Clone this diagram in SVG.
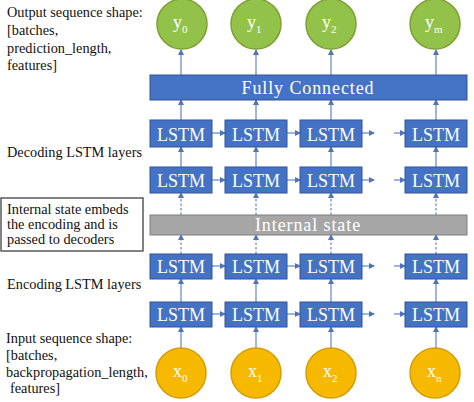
<svg xmlns="http://www.w3.org/2000/svg" width="474" height="402" viewBox="0 0 474 402">
<style>
text{font-family:'Liberation Serif','Times New Roman','DejaVu Serif',serif}
.lstm rect{fill:#4472c4;stroke:#2f5597;stroke-width:1}
.lstm text{fill:#fff;font-size:18px;text-anchor:middle}
.bar text{fill:#fff;font-size:18px;text-anchor:middle;letter-spacing:0.9px}
.out circle{fill:#93c24b;stroke:#7d9f33;stroke-width:1.5}
.in circle{fill:#f7b900;stroke:#d49d05;stroke-width:1.5}
.node text.v{fill:#fff;font-size:18px}
.lbl{fill:#111;font-size:14.3px}
.c line{stroke:#6d8ecb;stroke-width:1.3;fill:none}
.c line.d{stroke-dasharray:2.5 2}
</style>
<defs>
<marker id="ah" markerWidth="6" markerHeight="6" refX="5" refY="3" orient="auto" markerUnits="userSpaceOnUse">
<path d="M0,0 L6,3 L0,6 z" fill="#4f74b8"/>
</marker>
</defs>

<g id="label-output">
<text class="lbl" x="7" y="17">Output sequence shape:</text>
<text class="lbl" x="7" y="35">[batches,</text>
<text class="lbl" x="7" y="53">prediction_length,</text>
<text class="lbl" x="7" y="70">features]</text>
</g>
<g id="label-decoding"><text class="lbl" x="7" y="157">Decoding LSTM layers</text></g>
<g id="label-internal">
<rect x="1" y="198" width="142" height="53" fill="#fff" stroke="#595959" stroke-width="1.5"/>
<text class="lbl" x="7" y="214">Internal state embeds</text>
<text class="lbl" x="7" y="229">the encoding and is</text>
<text class="lbl" x="7" y="244">passed to decoders</text>
</g>
<g id="label-encoding"><text class="lbl" x="7" y="289">Encoding LSTM layers</text></g>
<g id="label-input">
<text class="lbl" x="6" y="343">Input sequence shape:</text>
<text class="lbl" x="6" y="360">[batches,</text>
<text class="lbl" x="6" y="377">backpropagation_length,</text>
<text class="lbl" x="10" y="393">features]</text>
</g>

<g id="connectors" class="c">
<line x1="181" y1="75" x2="181" y2="50" marker-end="url(#ah)"/>
<line x1="256" y1="75" x2="256" y2="50" marker-end="url(#ah)"/>
<line x1="331" y1="75" x2="331" y2="50" marker-end="url(#ah)"/>
<line x1="436" y1="75" x2="436" y2="50" marker-end="url(#ah)"/>
<line x1="181" y1="120" x2="181" y2="100" marker-end="url(#ah)"/>
<line x1="256" y1="120" x2="256" y2="100" marker-end="url(#ah)"/>
<line x1="331" y1="120" x2="331" y2="100" marker-end="url(#ah)"/>
<line x1="436" y1="120" x2="436" y2="100" marker-end="url(#ah)"/>
<line x1="181" y1="167" x2="181" y2="147" marker-end="url(#ah)"/>
<line x1="256" y1="167" x2="256" y2="147" marker-end="url(#ah)"/>
<line x1="331" y1="167" x2="331" y2="147" marker-end="url(#ah)"/>
<line x1="436" y1="167" x2="436" y2="147" marker-end="url(#ah)"/>
<line class="d" x1="181" y1="215" x2="181" y2="193" marker-end="url(#ah)"/>
<line class="d" x1="256" y1="215" x2="256" y2="193" marker-end="url(#ah)"/>
<line class="d" x1="331" y1="215" x2="331" y2="193" marker-end="url(#ah)"/>
<line class="d" x1="436" y1="215" x2="436" y2="193" marker-end="url(#ah)"/>
<line class="d" x1="181" y1="254" x2="181" y2="235" marker-end="url(#ah)"/>
<line class="d" x1="256" y1="254" x2="256" y2="235" marker-end="url(#ah)"/>
<line class="d" x1="331" y1="254" x2="331" y2="235" marker-end="url(#ah)"/>
<line class="d" x1="436" y1="254" x2="436" y2="235" marker-end="url(#ah)"/>
<line x1="181" y1="302" x2="181" y2="279" marker-end="url(#ah)"/>
<line x1="256" y1="302" x2="256" y2="279" marker-end="url(#ah)"/>
<line x1="331" y1="302" x2="331" y2="279" marker-end="url(#ah)"/>
<line x1="436" y1="302" x2="436" y2="279" marker-end="url(#ah)"/>
<line x1="181" y1="348" x2="181" y2="327" marker-end="url(#ah)"/>
<line x1="256" y1="348" x2="256" y2="327" marker-end="url(#ah)"/>
<line x1="331" y1="348" x2="331" y2="327" marker-end="url(#ah)"/>
<line x1="436" y1="348" x2="436" y2="327" marker-end="url(#ah)"/>
<line x1="212" y1="133" x2="225" y2="133" marker-end="url(#ah)"/>
<line x1="287" y1="133" x2="300" y2="133" marker-end="url(#ah)"/>
<line x1="362" y1="133" x2="374" y2="133" marker-end="url(#ah)"/>
<line x1="394" y1="133" x2="405" y2="133" marker-end="url(#ah)"/>
<line x1="212" y1="180" x2="225" y2="180" marker-end="url(#ah)"/>
<line x1="287" y1="180" x2="300" y2="180" marker-end="url(#ah)"/>
<line x1="362" y1="180" x2="374" y2="180" marker-end="url(#ah)"/>
<line x1="394" y1="180" x2="405" y2="180" marker-end="url(#ah)"/>
<line x1="212" y1="266" x2="225" y2="266" marker-end="url(#ah)"/>
<line x1="287" y1="266" x2="300" y2="266" marker-end="url(#ah)"/>
<line x1="362" y1="266" x2="374" y2="266" marker-end="url(#ah)"/>
<line x1="394" y1="266" x2="405" y2="266" marker-end="url(#ah)"/>
<line x1="212" y1="314" x2="225" y2="314" marker-end="url(#ah)"/>
<line x1="287" y1="314" x2="300" y2="314" marker-end="url(#ah)"/>
<line x1="362" y1="314" x2="374" y2="314" marker-end="url(#ah)"/>
<line x1="394" y1="314" x2="405" y2="314" marker-end="url(#ah)"/>
</g>

<g id="y0" class="node out"><circle cx="182" cy="24" r="25"/><text class="v" x="173" y="28">y<tspan font-size="11" dy="5">0</tspan></text></g>
<g id="y1" class="node out"><circle cx="256" cy="24" r="25"/><text class="v" x="247" y="28">y<tspan font-size="11" dy="5">1</tspan></text></g>
<g id="y2" class="node out"><circle cx="331" cy="24" r="25"/><text class="v" x="322" y="28">y<tspan font-size="11" dy="5">2</tspan></text></g>
<g id="ym" class="node out"><circle cx="435" cy="24" r="25"/><text class="v" x="425" y="28">y<tspan font-size="11" dy="5">m</tspan></text></g>

<g id="fully-connected" class="bar"><rect x="150" y="75" width="317" height="25" fill="#4472c4" stroke="#2f5597"/><text x="308" y="94">Fully Connected</text></g>

<g id="dec1-1" class="lstm"><rect x="150" y="120" width="62" height="27"/><text x="181" y="141">LSTM</text></g>
<g id="dec1-2" class="lstm"><rect x="225" y="120" width="62" height="27"/><text x="256" y="141">LSTM</text></g>
<g id="dec1-3" class="lstm"><rect x="300" y="120" width="62" height="27"/><text x="331" y="141">LSTM</text></g>
<g id="dec1-4" class="lstm"><rect x="405" y="120" width="62" height="27"/><text x="436" y="141">LSTM</text></g>

<g id="dec2-1" class="lstm"><rect x="150" y="167" width="62" height="26"/><text x="181" y="187">LSTM</text></g>
<g id="dec2-2" class="lstm"><rect x="225" y="167" width="62" height="26"/><text x="256" y="187">LSTM</text></g>
<g id="dec2-3" class="lstm"><rect x="300" y="167" width="62" height="26"/><text x="331" y="187">LSTM</text></g>
<g id="dec2-4" class="lstm"><rect x="405" y="167" width="62" height="26"/><text x="436" y="187">LSTM</text></g>

<g id="internal-state" class="bar"><rect x="150" y="215" width="317" height="20" fill="#a6a6a6" stroke="#7f7f7f"/><text x="308" y="231">Internal state</text></g>

<g id="enc1-1" class="lstm"><rect x="150" y="254" width="62" height="25"/><text x="181" y="273">LSTM</text></g>
<g id="enc1-2" class="lstm"><rect x="225" y="254" width="62" height="25"/><text x="256" y="273">LSTM</text></g>
<g id="enc1-3" class="lstm"><rect x="300" y="254" width="62" height="25"/><text x="331" y="273">LSTM</text></g>
<g id="enc1-4" class="lstm"><rect x="405" y="254" width="62" height="25"/><text x="436" y="273">LSTM</text></g>

<g id="enc2-1" class="lstm"><rect x="150" y="302" width="62" height="25"/><text x="181" y="321">LSTM</text></g>
<g id="enc2-2" class="lstm"><rect x="225" y="302" width="62" height="25"/><text x="256" y="321">LSTM</text></g>
<g id="enc2-3" class="lstm"><rect x="300" y="302" width="62" height="25"/><text x="331" y="321">LSTM</text></g>
<g id="enc2-4" class="lstm"><rect x="405" y="302" width="62" height="25"/><text x="436" y="321">LSTM</text></g>

<g id="x0" class="node in"><circle cx="181" cy="373" r="25"/><text class="v" x="173" y="377">x<tspan font-size="11" dy="5">0</tspan></text></g>
<g id="x1" class="node in"><circle cx="256" cy="373" r="25"/><text class="v" x="248" y="377">x<tspan font-size="11" dy="5">1</tspan></text></g>
<g id="x2" class="node in"><circle cx="331" cy="373" r="25"/><text class="v" x="323" y="377">x<tspan font-size="11" dy="5">2</tspan></text></g>
<g id="xn" class="node in"><circle cx="435" cy="373" r="25"/><text class="v" x="427" y="377">x<tspan font-size="11" dy="5">n</tspan></text></g>
</svg>
